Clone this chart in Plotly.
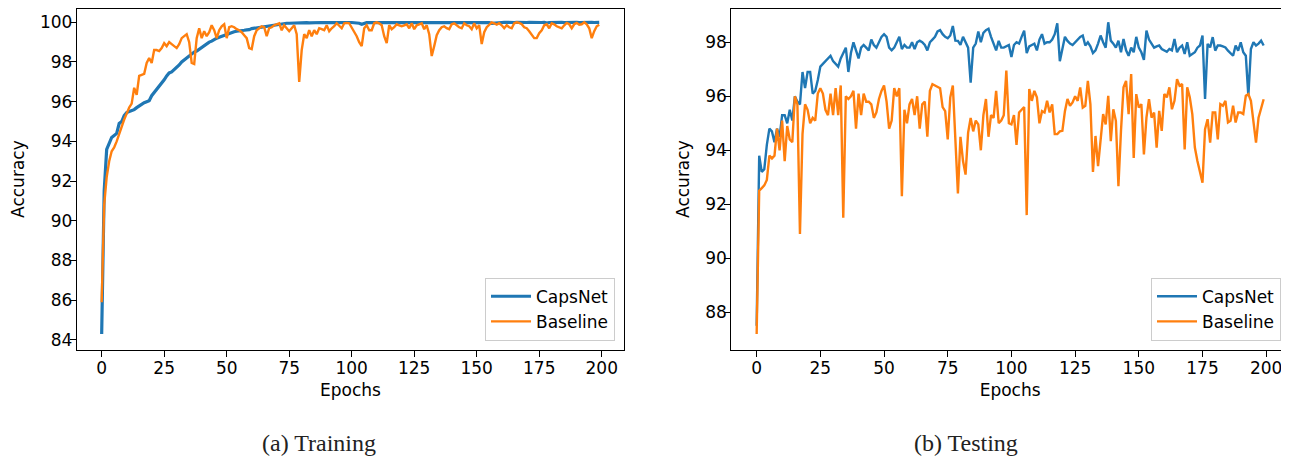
import plotly.graph_objects as go

# ---------------- data ----------------
train_capsnet = [
    84.3, 91.5, 93.6, 93.9, 94.2, 94.3, 94.4, 94.9, 95.0, 95.3,
    95.45, 95.5, 95.55, 95.6, 95.7, 95.8, 95.9, 95.95, 96.0, 96.05,
    96.3, 96.45, 96.6, 96.8, 96.95, 97.1, 97.3, 97.45, 97.5, 97.6,
    97.7, 97.85, 98.0, 98.1, 98.25, 98.35, 98.45, 98.5, 98.55, 98.65,
    98.75, 98.8, 98.9, 99.0, 99.05, 99.15, 99.2, 99.25, 99.3, 99.35,
    99.4, 99.45, 99.5, 99.52, 99.55, 99.58, 99.6, 99.6, 99.62, 99.63,
    99.68, 99.7, 99.72, 99.76, 99.78, 99.8, 99.82, 99.85, 99.87, 99.88,
    99.9, 99.92, 99.93, 99.94, 99.95, 99.95, 99.96, 99.97, 99.97, 99.98,
    99.97, 99.98, 99.98, 99.97, 99.98, 99.99, 99.98, 99.98, 99.99, 99.98,
    99.99, 99.98, 99.99, 99.99, 99.98, 99.99, 99.99, 99.98, 99.99, 99.99,
    99.99, 99.99, 99.98, 99.95, 99.9, 99.95, 99.98, 99.99, 99.99, 99.99,
    99.99, 99.99, 99.98, 99.99, 99.99, 100.0, 99.99, 99.99, 99.99, 99.99,
    99.99, 100.0, 99.99, 99.99, 99.99, 100.0, 99.99, 99.99, 100.0, 99.99,
    99.99, 100.0, 99.99, 99.99, 100.0, 99.99, 99.99, 100.0, 99.99, 99.99,
    100.0, 99.99, 99.99, 100.0, 99.99, 99.99, 100.0, 99.99, 100.0, 99.99,
    99.99, 100.0, 99.99, 99.99, 100.0, 99.98, 99.95, 99.97, 99.99, 100.0,
    99.99, 100.0, 99.99, 99.99, 100.0, 99.99, 100.0, 99.99, 99.99, 100.0,
    99.99, 100.0, 99.99, 99.99, 100.0, 99.99, 99.99, 100.0, 99.96, 99.99,
    100.0, 99.99, 100.0, 99.99, 100.0, 99.99, 100.0, 99.99, 100.0, 99.99,
    100.0, 99.99, 100.0, 100.0, 99.99, 100.0, 100.0, 99.99, 100.0, 100.0,
]

train_baseline = [
    85.9, 90.8, 92.2, 93.0, 93.5, 93.7, 94.0, 94.4, 94.8, 95.1,
    95.4, 95.7, 95.9, 96.7, 96.35, 97.3, 97.35, 97.4, 97.95, 98.2,
    97.95, 98.6, 98.6, 98.55, 98.7, 98.95, 98.8, 99.0, 98.9, 98.8,
    98.7, 98.9, 99.2, 99.3, 99.4, 99.0, 97.95, 97.9, 99.2, 99.7,
    99.2, 99.55, 99.3, 99.5, 99.85, 99.6, 99.2, 99.6, 99.8, 99.9,
    99.2, 99.75, 99.8, 99.75, 99.65, 99.6, 99.5, 99.35, 99.2, 98.7,
    98.65, 99.3, 99.6, 99.7, 99.8, 99.75, 99.3, 99.7, 99.75, 99.85,
    99.9, 99.95, 99.6, 99.85, 99.7, 99.55, 99.7, 99.85, 99.4, 97.0,
    98.6, 99.4, 99.2, 99.6, 99.3, 99.6, 99.4, 99.7, 99.65, 99.6,
    99.85, 99.55, 99.7, 99.8, 99.95, 99.8, 99.7, 99.95, 99.97, 99.95,
    99.75, 99.5, 99.3, 99.0, 98.8, 99.7, 99.85, 99.6, 99.6, 99.95,
    100.0, 99.95, 99.85, 99.3, 98.95, 99.85, 99.65, 99.75, 99.9, 99.85,
    99.8, 99.85, 99.9, 99.7, 99.95, 99.65, 99.85, 99.9, 99.95, 99.65,
    99.85, 99.4, 98.3, 98.8, 99.35, 99.6, 99.75, 99.8, 99.7, 99.65,
    99.9, 99.95, 99.85, 99.75, 99.7, 99.95, 99.85, 99.8, 99.65, 99.95,
    99.7, 99.85, 98.9, 99.5, 99.75, 99.9, 100.0, 99.95, 99.88, 99.95,
    99.85, 99.7, 99.85, 99.75, 99.7, 99.95, 100.0, 99.97, 99.9, 99.75,
    99.7, 99.55, 99.35, 99.2, 99.2, 99.45, 99.6, 99.85, 99.9, 99.7,
    99.95, 99.9, 99.8, 99.75, 99.7, 99.85, 99.97, 99.9, 99.7, 99.9,
    99.97, 99.88, 99.9, 100.0, 99.9, 99.7, 99.2, 99.55, 99.8, 99.88,
]

test_capsnet = [
    87.5, 93.8, 93.2, 93.3, 94.2, 94.8, 94.7, 94.3, 94.8, 94.5,
    95.3, 95.3, 95.0, 95.5, 95.1, 96.0, 95.8, 95.7, 96.9, 96.3,
    96.9, 96.9, 96.1, 96.2, 96.6, 97.1, 97.2, 97.3, 97.4, 97.5,
    97.3, 97.2, 97.1, 97.4, 97.6, 97.8, 96.9, 97.6, 98.0, 97.7,
    97.4, 97.8, 97.9, 97.8, 97.7, 98.1, 97.9, 97.8, 98.0, 98.2,
    98.3, 98.2, 97.8, 97.7, 97.8, 98.0, 98.2, 97.75, 97.9, 97.8,
    97.8, 98.0, 97.75, 98.0, 98.06, 98.0, 97.9, 97.7, 98.0, 98.1,
    98.2, 98.4, 98.45, 98.3, 98.2, 98.15, 98.25, 98.6, 98.06, 98.05,
    97.9, 98.2, 98.0, 97.8, 96.5, 97.8, 97.95, 98.4, 98.0, 98.35,
    98.45, 98.5, 98.2, 97.95, 97.7, 98.05, 97.8, 97.8, 97.85, 97.9,
    97.45, 97.9, 98.0, 97.95, 98.2, 98.43, 97.6, 97.85, 97.9, 97.95,
    97.7, 98.1, 98.3, 97.95, 98.0, 98.0, 98.1, 98.3, 98.7, 97.3,
    97.75, 98.2, 98.05, 97.95, 97.9, 98.0, 98.1, 98.2, 98.25, 97.88,
    98.0, 97.85, 97.6, 97.7, 97.95, 98.25, 98.0, 97.8, 98.74, 98.06,
    97.95, 97.8, 98.06, 97.63, 98.12, 97.7, 97.5, 97.8, 97.63, 98.2,
    97.8, 97.63, 97.35, 98.43, 98.1, 97.94, 97.8, 97.85, 97.88, 97.75,
    97.7, 97.65, 97.75, 97.7, 98.12, 97.63, 97.8, 97.88, 97.57, 98.0,
    97.5, 97.55, 97.63, 97.8, 97.88, 98.25, 95.9, 97.94, 97.81, 98.19,
    97.69, 97.88, 97.88, 97.85, 97.81, 97.69, 97.6, 97.5, 97.88, 97.69,
    98.0, 97.63, 97.5, 96.0, 97.75, 98.0, 97.88, 97.95, 98.06, 97.88,
]

test_baseline = [
    87.2, 92.5, 92.6, 92.7, 92.9, 93.8, 93.7, 93.8, 94.8, 94.0,
    95.1, 93.6, 94.9, 94.4, 94.3, 96.0, 95.7, 90.9, 94.6, 95.7,
    95.5, 95.0, 95.2, 95.1, 96.1, 96.3, 96.1, 95.5, 95.3, 96.1,
    95.3, 96.3, 95.3, 96.4, 91.5, 96.0, 95.9, 96.0, 96.2, 94.8,
    96.1, 95.3, 96.1, 95.8, 95.8, 95.7, 95.2, 95.4, 95.9, 96.2,
    96.4, 95.8, 94.8, 95.1, 96.3, 96.0, 96.3, 92.3, 95.5, 95.0,
    95.7, 95.9, 95.3, 96.0, 94.8, 95.7, 95.8, 94.5, 96.2, 96.45,
    96.4, 96.35, 96.3, 95.6, 95.45, 94.4, 95.96, 96.4, 94.5, 92.4,
    94.5, 93.6, 93.1, 94.65, 95.2, 94.7, 95.1, 94.96, 94.0, 95.3,
    95.9, 94.5, 95.3, 95.2, 96.2, 95.0, 95.1, 95.3, 96.95, 95.0,
    94.96, 95.3, 94.2, 95.4, 95.5, 95.6, 91.6, 96.27, 95.83, 96.2,
    95.96, 95.0, 95.45, 95.4, 95.83, 95.4, 95.7, 94.6, 94.6, 94.7,
    94.72, 95.45, 95.9, 95.65, 95.77, 96.0, 95.83, 96.33, 95.58, 95.65,
    96.57, 95.71, 93.2, 94.53, 93.41, 94.47, 95.34, 94.96, 96.02, 94.34,
    95.52, 95.09, 92.67, 94.72, 96.33, 96.57, 95.34, 96.82, 93.72, 96.08,
    95.58, 95.71, 93.85, 95.21, 95.89, 95.21, 95.4, 94.1, 95.46, 94.72,
    96.08, 95.96, 96.33, 95.52, 95.83, 96.63, 96.39, 96.45, 94.03, 96.33,
    95.96, 95.34, 94.1, 93.6, 93.17, 92.8, 94.78, 95.15, 94.28, 95.4,
    95.4, 94.4, 95.71, 95.65, 95.83, 95.03, 95.09, 95.65, 95.03, 95.4,
    95.4, 95.34, 96.02, 96.08, 95.83, 94.96, 94.28, 95.21, 95.52, 95.89,
]

series_names = ["CapsNet", "Baseline"]
x_ticks = [0, 25, 50, 75, 100, 125, 150, 175, 200]
y_ticks_train = [84, 86, 88, 90, 92, 94, 96, 98, 100]
y_ticks_test = [88, 90, 92, 94, 96, 98]
captions = ["(a) Training", "(b) Testing"]
x_title = "Epochs"
y_title = "Accuracy"

# ---------------- figure ----------------
BLUE = "#1f77b4"
ORANGE = "#ff7f0e"
# the page body has an 8px default margin; the figure is sized so that it
# fills the 1289x458 window from that offset
OFF = 8
W, H = 1289 - OFF, 458 - OFF
FONT = "DejaVu Sans"
FS = 17


def px_x(p):  # page pixel -> paper x
    return (p - OFF) / W


def px_y(p):  # page pixel -> paper y
    return (H - (p - OFF)) / H


epochs = list(range(len(train_capsnet)))

fig = go.Figure()
fig.add_trace(go.Scatter(x=epochs, y=train_capsnet, mode="lines", name=series_names[0],
                         line=dict(color=BLUE, width=3.2), xaxis="x", yaxis="y", legend="legend"))
fig.add_trace(go.Scatter(x=epochs, y=train_baseline, mode="lines", name=series_names[1],
                         line=dict(color=ORANGE, width=2.4), xaxis="x", yaxis="y", legend="legend"))
fig.add_trace(go.Scatter(x=epochs, y=test_capsnet, mode="lines", name=series_names[0],
                         line=dict(color=BLUE, width=2.4), xaxis="x2", yaxis="y2", legend="legend2"))
fig.add_trace(go.Scatter(x=epochs, y=test_baseline, mode="lines", name=series_names[1],
                         line=dict(color=ORANGE, width=2.4), xaxis="x2", yaxis="y2", legend="legend2"))

# reference frame: top 6.7px, bottom 349.5px; top is clipped to the page offset
top_ref, bot_ref = 6.7, 349.5
top_real = max(top_ref, OFF + 0.7)
y_dom = [px_y(bot_ref), min(1.0, px_y(top_real))]


def span(vals):
    lo, hi = min(vals), max(vals)
    m = (hi - lo) * 0.05
    lo, hi = lo - m, hi + m
    # shrink top so data-to-pixel scale matches the full reference frame
    hi = hi - (hi - lo) * (top_real - top_ref) / (bot_ref - top_ref)
    return [lo, hi]


axis_common = dict(
    showgrid=False, zeroline=False, showline=True, linecolor="black", linewidth=1.1,
    ticks="outside", ticklen=6, tickwidth=1.1, tickcolor="black",
    tickfont=dict(family=FONT, size=FS, color="black"),
)

x_span = [-0.05 * (len(epochs) - 1), (len(epochs) - 1) * 1.05]

fig.update_layout(
    width=W, height=H,
    margin=dict(l=0, r=0, t=0, b=0),
    paper_bgcolor="white", plot_bgcolor="white",
    font=dict(family=FONT, size=FS, color="black"),
    xaxis=dict(domain=[px_x(76.8), px_x(624.1)], range=x_span, anchor="y", mirror=True,
               tickvals=x_ticks, ticklabelstandoff=-3,
               title=dict(text=x_title, standoff=7, font=dict(size=FS)), **axis_common),
    yaxis=dict(domain=y_dom, range=span(train_capsnet + train_baseline), anchor="x", mirror=True,
               tickvals=y_ticks_train, ticklabelstandoff=-6,
               title=dict(text=y_title, standoff=10, font=dict(size=FS)), **axis_common),
    xaxis2=dict(domain=[px_x(731.3), 1.0], range=x_span, anchor="y2", mirror=True,
                tickvals=x_ticks, ticklabelstandoff=-3,
                title=dict(text=x_title, standoff=7, font=dict(size=FS)), **axis_common),
    yaxis2=dict(domain=y_dom, range=span(test_capsnet + test_baseline), anchor="x2", mirror=False,
                tickvals=y_ticks_test, ticklabelstandoff=-6,
                title=dict(text=y_title, standoff=11, font=dict(size=FS)), **axis_common),
    legend=dict(x=px_x(615), y=px_y(340.7), xanchor="right", yanchor="bottom",
                bgcolor="rgba(255,255,255,0.8)", bordercolor="#cccccc", borderwidth=1,
                font=dict(family=FONT, size=FS, color="black"), itemwidth=40),
    legend2=dict(x=px_x(1281), y=px_y(340.7), xanchor="right", yanchor="bottom",
                 bgcolor="rgba(255,255,255,0.8)", bordercolor="#cccccc", borderwidth=1,
                 font=dict(family=FONT, size=FS, color="black"), itemwidth=40),
    showlegend=True,
)

for cx, txt in zip([319, 966], captions):
    fig.add_annotation(x=px_x(cx), y=px_y(443), xref="paper", yref="paper", text=txt,
                       showarrow=False, xanchor="center", yanchor="middle",
                       font=dict(family="Liberation Serif", size=24, color="#222222"))

fig.write_html("out.html")
